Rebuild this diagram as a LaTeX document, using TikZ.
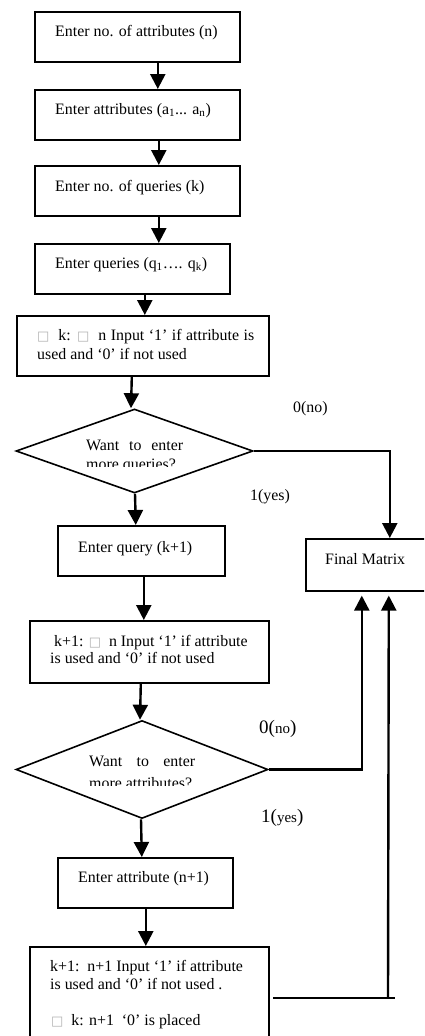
\documentclass[tikz,border=0pt]{standalone}
\usepackage{fontspec}
\setmainfont{Liberation Serif}
\newfontfamily\dvfont{DejaVu Sans}
\usetikzlibrary{shapes.geometric,arrows.meta}
\newcommand{\sqbox}{{\dvfont\color{gray!60}\fontsize{13}{13}\selectfont □}}
\newcommand{\bigd}[1]{{\fontsize{19}{19}\selectfont #1}}
\newcommand{\smallw}[1]{{\fontsize{15}{15}\selectfont #1}}
\begin{document}
\begin{tikzpicture}[x=1pt,y=-1pt,
  box/.style={draw, line width=1.6pt, rectangle, inner sep=0pt, anchor=north west},
  dia/.style={draw, line width=1.6pt, diamond, inner sep=0pt},
  txt/.style={anchor=base west, inner sep=0pt, font=\fontsize{15.9}{15.9}\selectfont},
  arr/.style={line width=2.4pt, -{Triangle[width=15pt,length=15pt]}},
  conn/.style={line width=2.4pt}]
\useasboundingbox (0,0) rectangle (424,1036);
\clip (0,0) rectangle (424,1036);
\fill[white] (0,0) rectangle (424,1036);

% boxes
\node[box, minimum width=205pt, minimum height=50pt] (b1) at (34,11) {};
\node[box, minimum width=205pt, minimum height=50pt] (b2) at (34,89) {};
\node[box, minimum width=205pt, minimum height=50pt] (b3) at (34,165) {};
\node[box, minimum width=195pt, minimum height=50pt] (b4) at (34,243) {};
\node[box, minimum width=252pt, minimum height=60pt] (b5) at (16,315) {};
\node[dia, minimum width=237pt, minimum height=84pt] (d1) at (134.5,451) {};
\node[box, minimum width=167pt, minimum height=50pt] (b6) at (57,525) {};
\node[box, minimum width=125pt, minimum height=52pt] (fm) at (305,538) {};
\node[box, minimum width=239pt, minimum height=62pt] (b7) at (29,620) {};
\node[dia, minimum width=252pt, minimum height=98pt] (d2) at (142,769.5) {};
\node[box, minimum width=175pt, minimum height=50pt] (b8) at (57,857) {};
\node[box, minimum width=239pt, minimum height=110pt] (b9) at (29,946) {};

% texts
\node[txt] (t1) at (55,36) {Enter no. of attributes (n)};
\node[txt] (t2) at (55,114) {Enter attributes (a\textsubscript{1}... a\textsubscript{n})};
\node[txt] (t3) at (55,191) {Enter no. of queries (k)};
\node[txt] (t4) at (55,268) {Enter queries (q\textsubscript{1}…. q\textsubscript{k})};
\node[txt] (t5a) at (37,340) {\hbox to 217pt{\sqbox\ \ k: \sqbox\ \ n Input ‘1’ if attribute is}};
\node[txt] (t5b) at (37,359) {used and ‘0’ if not used};
\node[txt] (td1a) at (86,450) {\hbox to 97pt{Want\hfill to\hfill enter}};
\begin{scope}
\clip (60,440) rectangle (220,466.5);
\node[txt] (td1b) at (86,469) {more queries?};
\end{scope}
\node[txt] (lno1) at (293,412) {0(no)};
\node[txt] (lyes1) at (250,500) {1(yes)};
\node[txt] (t6) at (78,552) {Enter query (k+1)};
\node[txt] (tfm) at (325,564) {Final Matrix};
\node[txt] (t7a) at (54,646) {k+1: \sqbox\ \ n Input ‘1’ if attribute};
\node[txt] (t7b) at (50,663) {is used and ‘0’ if not used};
\node[txt] (lno2) at (259,733) {\bigd{0(}\smallw{no}\bigd{)}};
\node[txt] (td2a) at (89,766) {\hbox to 106pt{Want\hfill to\hfill enter}};
\begin{scope}
\clip (60,750) rectangle (230,785);
\node[txt] (td2b) at (89,788) {more attributes?};
\end{scope}
\node[txt] (lyes2) at (261,822) {\bigd{1(}\smallw{yes}\bigd{)}};
\node[txt] (t8) at (78,882) {Enter attribute (n+1)};
\node[txt] (t9a) at (50,971) {k+1:\ \ n+1 Input ‘1’ if attribute};
\node[txt] (t9b) at (50,989) {is used and ‘0’ if not used .};
\node[txt] (t9c) at (51,1025) {\sqbox\ \ k: n+1\ \ ‘0’ is placed};

% main flow arrows
\draw[arr] ([xshift=20.5pt]b1.south) -- ([xshift=20.5pt]b2.north);
\draw[arr] ([xshift=21.5pt]b2.south) -- ([xshift=21.5pt]b3.north);
\draw[arr] ([xshift=21.5pt]b3.south) -- ([xshift=26.5pt]b4.north);
\draw[arr] ([xshift=12.5pt]b4.south) -- ([xshift=2pt]b5.north);
\draw[arr] ([xshift=-11pt]b5.south) -- ([xshift=-3.5pt]d1.north);
\draw[arr] ([xshift=0.5pt]d1.south) -- ([xshift=-5.5pt]b6.north);
\draw[arr] ([xshift=2.5pt]b6.south) -- ([xshift=-5.5pt]b7.north);
\draw[arr] ([xshift=-8.5pt]b7.south) -- ([xshift=-2pt]d2.north);
\draw[arr] ([xshift=-1pt]d2.south) -- ([xshift=-3.5pt]b8.north);
\draw[arr] ([xshift=0.5pt]b8.south) -- ([xshift=-3.5pt]b9.north);

% branches to Final Matrix
\draw[arr] (d1.east) -| ([xshift=21.5pt]fm.north);
\draw[arr] (d2.east) -| ([xshift=-6.5pt,yshift=-4pt]fm.south);
\coordinate (h9s) at (273,998);
\coordinate (h9e) at (395,998);
\coordinate (v9) at (388,998);
\draw[conn] (h9s) -- (h9e);
\draw[arr] (v9) -- ([xshift=20.5pt,yshift=-4pt]fm.south);
\end{tikzpicture}
\end{document}
